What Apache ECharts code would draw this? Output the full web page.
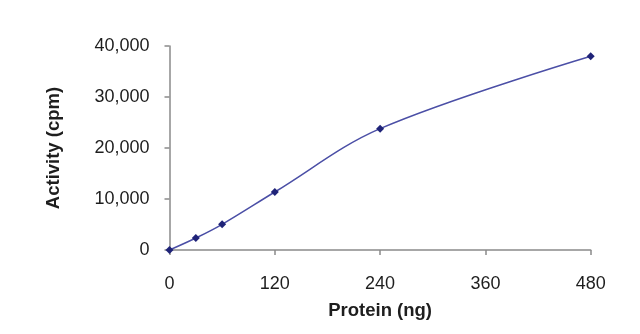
<!DOCTYPE html>
<html>
<head>
<meta charset="utf-8">
<script src="https://cdn.jsdelivr.net/npm/echarts@6/dist/echarts.min.js"></script>
<style>
  html, body { margin: 0; padding: 0; background: #ffffff; }
  #chart { width: 640px; height: 334px; }
</style>
</head>
<body>
<div id="chart"></div>
<script>
// Protein amount (ng) and measured activity (cpm)
const proteinNg = [0, 30, 60, 120, 240, 480];
const activityCpm = [0, 2350, 5040, 11370, 23790, 37980];
const xTicks = [0, 120, 240, 360, 480];
const yTicks = [0, 10000, 20000, 30000, 40000];

const chart = echarts.init(document.getElementById('chart'), null, { renderer: 'canvas' });

const axisLineStyle = { color: '#8a8a8a', width: 1.5 };
const labelFont = { fontFamily: 'Liberation Sans, Arial, sans-serif', fontSize: 18, color: '#1e1e1e' };
const nameFont = { fontFamily: 'Liberation Sans, Arial, sans-serif', fontSize: 18.5, fontWeight: 'bold', color: '#1e1e1e' };

chart.setOption({
  animation: false,
  backgroundColor: '#ffffff',
  grid: { left: 169.5, right: 49.3, top: 46, bottom: 84 },
  xAxis: {
    type: 'value',
    min: xTicks[0],
    max: xTicks[xTicks.length - 1],
    interval: xTicks[1] - xTicks[0],
    name: 'Protein (ng)',
    nameLocation: 'middle',
    nameGap: 51,
    nameTextStyle: nameFont,
    axisLine: { lineStyle: axisLineStyle },
    axisTick: { show: true, length: 5, inside: false, lineStyle: axisLineStyle },
    axisLabel: Object.assign({ margin: 25 }, labelFont),
    splitLine: { show: false }
  },
  yAxis: {
    type: 'value',
    min: yTicks[0],
    max: yTicks[yTicks.length - 1],
    interval: yTicks[1] - yTicks[0],
    name: 'Activity (cpm)',
    nameLocation: 'middle',
    nameGap: 106,
    nameRotate: 90,
    nameTextStyle: nameFont,
    axisLine: { show: true, lineStyle: axisLineStyle },
    axisTick: { show: true, length: 5, inside: false, lineStyle: axisLineStyle },
    axisLabel: Object.assign({
      margin: 20,
      formatter: v => v.toLocaleString('en-US')
    }, labelFont),
    splitLine: { show: false }
  },
  series: [{
    type: 'line',
    data: proteinNg.map((x, i) => [x, activityCpm[i]]),
    smooth: 0.35,
    symbol: 'diamond',
    symbolSize: 8,
    lineStyle: { color: '#4b4fa6', width: 1.5 },
    itemStyle: { color: '#1f2378' }
  }]
});
</script>
</body>
</html>
